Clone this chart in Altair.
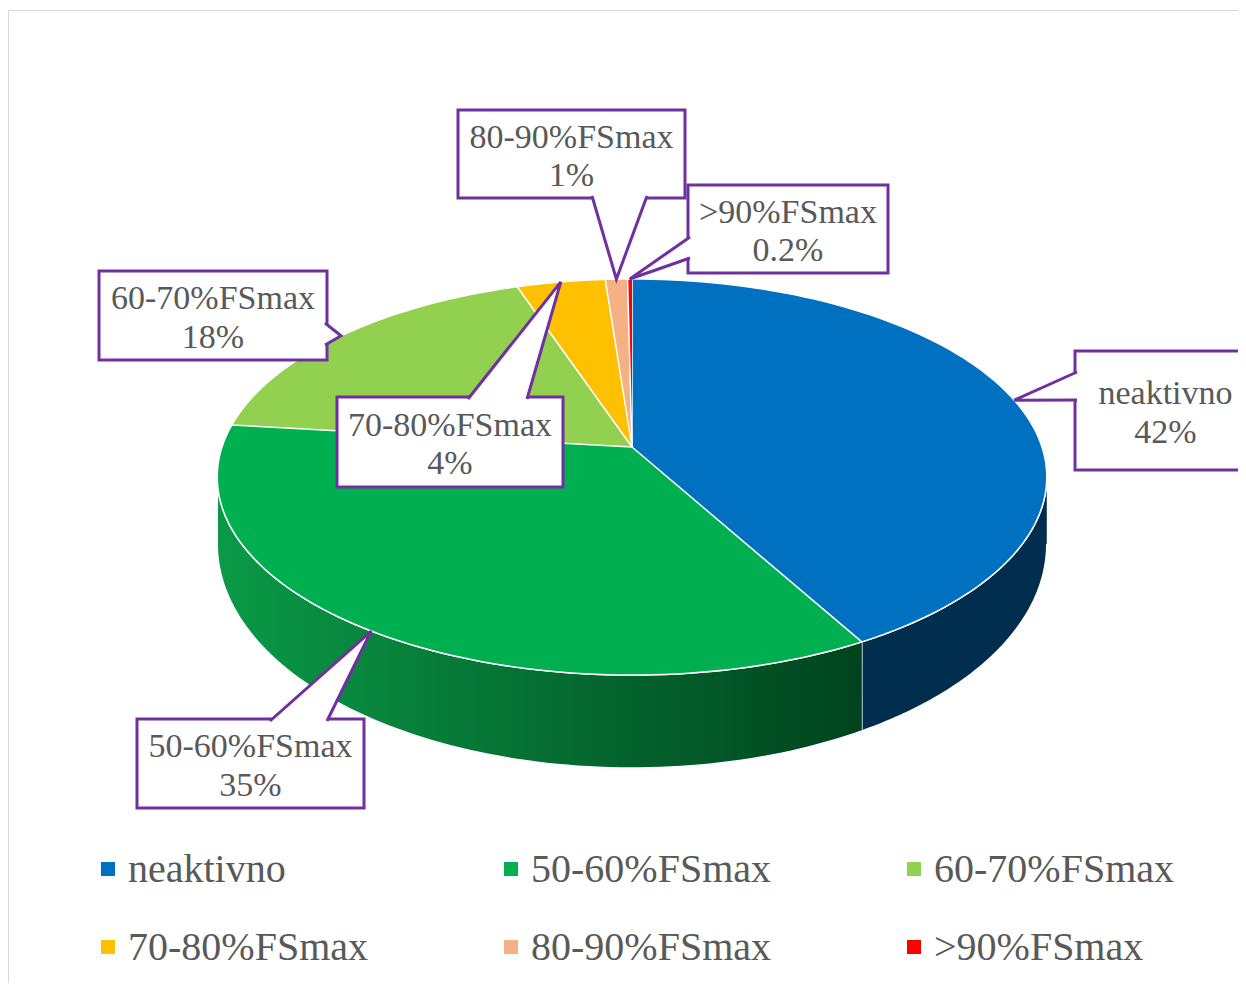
import math
import altair as alt
import pandas as pd

# ---------------- data ----------------
categories = ["neaktivno", "50-60%FSmax", "60-70%FSmax", "70-80%FSmax", "80-90%FSmax", ">90%FSmax"]
values = [42, 35, 18, 4, 1, 0.2]
pct_labels = ["42%", "35%", "18%", "4%", "1%", "0.2%"]

# ---------------- styles ----------------
top_colors = ["#0070C0", "#00B050", "#92D050", "#FFC000", "#F4B183", "#FF0000"]
side_colors = ["#012E4E", "#007A35", "#5E9A2E", "#B88A00", "#B07C5C", "#B00000"]
PURPLE = "#7030A0"
TEXT = "#595959"
FONT = "Liberation Serif"

# ---------------- layout (pixels of the page) ----------------
box_l = [1075, 137, 99, 337, 458, 688]
box_r = [1256, 364, 327, 563, 685, 888]
box_t = [351, 719, 271, 397, 110, 185]
box_b = [470, 808, 360, 487, 198, 273]
ptr_ax = [1077, 270, 325, 468, 592, 690]
ptr_ay = [372, 721, 323, 399, 196, 237]
ptr_bx = [1077, 327, 325, 527, 647, 690]
ptr_by = [400, 721, 345, 399, 196, 258]

# pie projection (3D perspective look)
CX, CY = 632, 447
A, B = 410, 193.5
C = 0.1515
D0, D1 = 62, 31      # side depth = D0 + D1 * nearness
N = 90
S0 = math.acos(-C)
S1 = 2 * math.pi - S0

W, H = 1230, 975
xs = alt.Scale(domain=[8, 8 + W], nice=False, zero=False)
ys = alt.Scale(domain=[8, 8 + H], nice=False, zero=False, reverse=True)


def X(f):
    return alt.X(f, type="quantitative", scale=xs, axis=None)


def Y(f):
    return alt.Y(f, type="quantitative", scale=ys, axis=None)


df = pd.DataFrame({
    "cat": categories, "value": values, "pct": pct_labels, "idx": list(range(len(categories))),
    "box_l": box_l, "box_r": box_r, "box_t": box_t, "box_b": box_b,
    "ptr_ax": ptr_ax, "ptr_ay": ptr_ay, "ptr_bx": ptr_bx, "ptr_by": ptr_by,
})

base = (
    alt.Chart(df)
    .transform_joinaggregate(total="sum(value)")
    .transform_window(cum="sum(value)", sort=[alt.SortField("idx", order="ascending")], frame=[None, 0])
    .transform_calculate(
        a0="2*PI*(datum.cum-datum.value)/datum.total",
        a1="2*PI*datum.cum/datum.total",
    )
)


def proj_x(phi):
    return f"{CX} + {A}*sin({phi})/(1 + {C}*cos({phi}))"


def proj_y(phi):
    return f"{CY} - {B}*cos({phi})/(1 + {C}*cos({phi}))"


color_top = alt.Color("cat:N", scale=alt.Scale(domain=categories, range=top_colors), legend=None)
fill_side = alt.Fill("cat:N", scale=alt.Scale(domain=categories, range=side_colors), legend=None)

# ---- top faces ----
top = (
    base.transform_calculate(pts=f"sequence(0,{N + 2})")
    .transform_flatten(["pts"], as_=["t"])
    .transform_calculate(phi=f"datum.a0 + (datum.a1-datum.a0)*max(datum.t-1,0)/{N}")
    .transform_calculate(
        px=f"datum.t==0 ? {CX} : " + proj_x("datum.phi"),
        py=f"datum.t==0 ? {CY} : " + proj_y("datum.phi"),
    )
    .mark_line(filled=True, stroke="white", strokeWidth=1.5, strokeJoin="round")
    .encode(x=X("px"), y=Y("py"), order=alt.Order("t:Q"), detail="cat:N", color=color_top)
)

# ---- sides ----
side_base = (
    base.transform_calculate(b0=f"max(datum.a0,{S0})", b1=f"min(datum.a1,{S1})")
    .transform_filter("datum.b1 > datum.b0")
    .transform_calculate(pts=f"sequence(0,{2 * N + 2})")
    .transform_flatten(["pts"], as_=["t"])
    .transform_calculate(k=f"datum.t <= {N} ? datum.t/{N} : 1 - (datum.t-{N + 1})/{N}")
    .transform_calculate(phi="datum.b0 + (datum.b1-datum.b0)*datum.k")
    .transform_calculate(
        px=proj_x("datum.phi"),
        py=proj_y("datum.phi") + f" + (datum.t > {N} ? {D0} - {D1}*cos(datum.phi) : 0)",
    )
)

side_other = (
    side_base.transform_filter(f"datum.cat != '{categories[1]}'")
    .mark_line(filled=True, stroke="white", strokeWidth=1.5)
    .encode(x=X("px"), y=Y("py"), order=alt.Order("t:Q"), detail="cat:N", fill=fill_side)
)

green_grad = alt.LinearGradient(
    gradient="linear",
    stops=[alt.GradientStop(offset=0, color="#0A9A47"), alt.GradientStop(offset=1, color="#00431E")],
    x1=0, x2=1, y1=0, y2=0,
)
side_green = (
    side_base.transform_filter(f"datum.cat == '{categories[1]}'")
    .mark_line(filled=True, fill=green_grad, stroke="white", strokeWidth=1.5)
    .encode(x=X("px"), y=Y("py"), order=alt.Order("t:Q"), detail="cat:N")
)

# ---- callouts ----
boxes = alt.Chart(df).mark_rect(fill="white", stroke=PURPLE, strokeWidth=3).encode(
    x=X("box_l"), x2="box_r", y=Y("box_t"), y2="box_b"
)

pointers = (
    base.transform_calculate(phi="(datum.a0+datum.a1)/2")
    .transform_calculate(tx=proj_x("datum.phi"), ty=proj_y("datum.phi"))
    .transform_calculate(pts="sequence(0,3)")
    .transform_flatten(["pts"], as_=["t"])
    .transform_calculate(
        px="datum.t==0 ? datum.ptr_ax : (datum.t==1 ? datum.tx : datum.ptr_bx)",
        py="datum.t==0 ? datum.ptr_ay : (datum.t==1 ? datum.ty : datum.ptr_by)",
    )
    .mark_line(filled=True, fill="white", stroke=PURPLE, strokeWidth=3, strokeJoin="miter")
    .encode(x=X("px"), y=Y("py"), order=alt.Order("t:Q"), detail="cat:N")
)

label_base = alt.Chart(df).transform_calculate(
    cx="(datum.box_l+datum.box_r)/2",
    y1="(datum.box_t+datum.box_b)/2 - 6.5",
    y2="(datum.box_t+datum.box_b)/2 + 32",
)
label1 = label_base.mark_text(font=FONT, fontSize=34, color=TEXT, align="center", baseline="alphabetic").encode(
    x=X("cx"), y=Y("y1"), text="cat:N"
)
label2 = label_base.mark_text(font=FONT, fontSize=34, color=TEXT, align="center", baseline="alphabetic").encode(
    x=X("cx"), y=Y("y2"), text="pct:N"
)

# ---- legend ----
leg_base = alt.Chart(df).transform_calculate(
    col="datum.idx % 3",
    row="floor(datum.idx / 3)",
).transform_calculate(
    mx="108 + 403*datum.col",
    my="869 + 78*datum.row",
    lx="128 + 403*datum.col",
    ly="882 + 78*datum.row",
)
leg_sym = leg_base.mark_square(size=196, opacity=1).encode(x=X("mx"), y=Y("my"), color=color_top)
leg_txt = leg_base.mark_text(font=FONT, fontSize=40, color=TEXT, align="left", baseline="alphabetic").encode(
    x=X("lx"), y=Y("ly"), text="cat:N"
)

# ---- chart frame ----
frame_df = pd.DataFrame({"x0": [8.5, 8.5], "y0": [10.5, 10.5], "x1": [8 + W, 8.5], "y1": [10.5, 8 + H]})
frame = alt.Chart(frame_df).mark_rule(color="#D9D9D9", strokeWidth=1).encode(
    x=X("x0"), y=Y("y0"), x2="x1", y2="y1"
)

chart = (
    alt.layer(frame, side_other, side_green, top, boxes, pointers, label1, label2, leg_sym, leg_txt)
    .properties(width=W, height=H, padding=0, autosize=alt.AutoSizeParams(type="none"))
    .configure_view(stroke=None)
)

chart.save("out.html", embed_options={"renderer": "svg", "actions": False})
